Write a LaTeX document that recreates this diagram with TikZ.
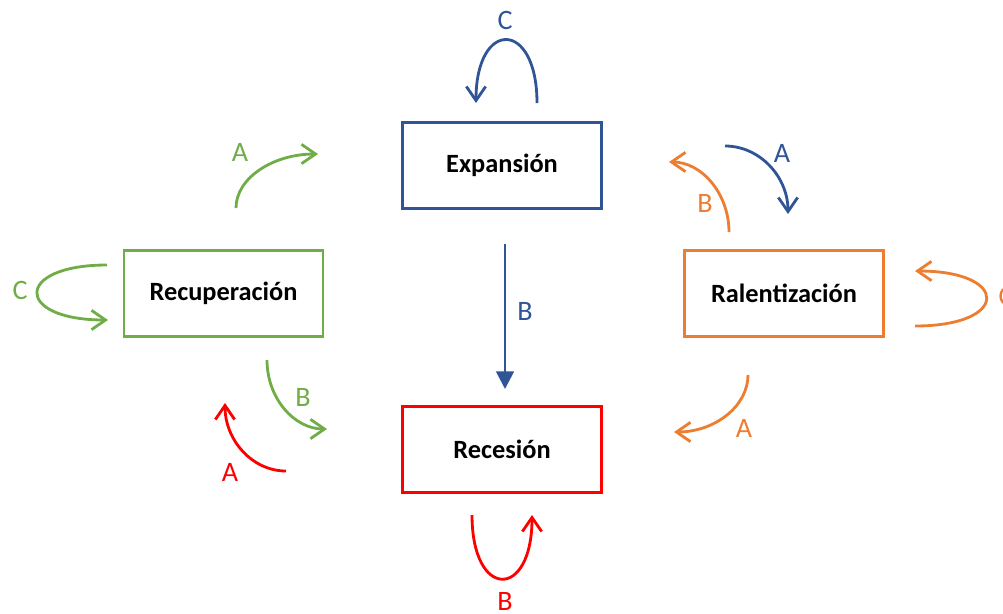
\documentclass[tikz,border=0pt]{standalone}
\usepackage{fontspec}
\setmainfont{Carlito}
\usetikzlibrary{arrows.meta}
\definecolor{azul}{RGB}{47,85,151}
\definecolor{verde}{RGB}{112,173,71}
\definecolor{naranja}{RGB}{237,125,49}
\definecolor{rojo}{RGB}{255,0,0}

\begin{document}
\begin{tikzpicture}[
  x=0.02cm, y=-0.02cm,
  >={Straight Barb[length=8pt,width=11pt]},
  fase/.style={draw,line width=1.4pt,minimum width=3.98cm,minimum height=1.72cm,
    font=\fontsize{15}{17}\selectfont\bfseries},
  flecha/.style={->,line width=1.6pt},
  etq/.style={font=\fontsize{16}{18}\selectfont}
]
\useasboundingbox (0,0) rectangle (1003,613);

% fases del ciclo
\node[fase,azul]    (exp) at (502,165.5) {\color{black}Expansión};
\node[fase,verde]   (rec) at (223.5,293.5) {\color{black}Recuperación};
\node[fase,naranja] (ral) at (784,293.5) {\color{black}Ralentización};
\node[fase,rojo]    (res) at (502,449.5) {\color{black}Recesión};

% extremos libres de las flechas
\coordinate (cE1) at (537,103);  \coordinate (cE2) at (476,103);
\coordinate (aE1) at (725,146);  \coordinate (aE2) at (788,214);
\coordinate (bR1) at (729,232);  \coordinate (bR2) at (669,162);
\coordinate (cR1) at (915,326);  \coordinate (cR2) at (915,271);
\coordinate (aR1) at (748,375);  \coordinate (aR2) at (674,432);
\coordinate (aV1) at (236,208);  \coordinate (aV2) at (318,154);
\coordinate (cV1) at (107,265);  \coordinate (cV2) at (108,320);
\coordinate (bV1) at (267,360);  \coordinate (bV2) at (327,429);
\coordinate (aS1) at (286,471);  \coordinate (aS2) at (225,403);
\coordinate (bS1) at (472,515);  \coordinate (bS2) at (532,515);
\coordinate (bE1) at (505,244);  \coordinate (bE2) at (505,389);

% expansion
\draw[flecha,azul] (cE1) .. controls (537,19) and (476,19) .. (cE2);
\draw[flecha,azul] (aE1) .. controls (760,146) and (788,177) .. (aE2);
\draw[azul,line width=1.6pt,-{Triangle[length=10pt,width=10pt]}] (bE1) -- (bE2);
\node[etq,azul] (lcE) at (505,20) {C};
\node[etq,azul] (laE) at (782,153) {A};
\node[etq,azul] (lbE) at (525,311) {B};

% ralentizacion
\draw[flecha,naranja] (bR1) .. controls (729,194) and (702,162) .. (bR2);
\draw[flecha,naranja] (cR1) .. controls (1010,326) and (1010,271) .. (cR2);
\draw[flecha,naranja] (aR1) .. controls (748,406) and (715,432) .. (aR2);
\node[etq,naranja] (lbR) at (705,203) {B};
\node[etq,naranja] (lcR) at (1006,296) {C};
\node[etq,naranja] (laR) at (744,428) {A};

% recuperacion
\draw[flecha,verde] (aV1) .. controls (236,178) and (273,154) .. (aV2);
\draw[flecha,verde] (cV1) .. controls (14,265) and (14,320) .. (cV2);
\draw[flecha,verde] (bV1) .. controls (267,398) and (294,429) .. (bV2);
\node[etq,verde] (laV) at (240,152) {A};
\node[etq,verde] (lcV) at (20,290) {C};
\node[etq,verde] (lbV) at (303,397) {B};

% recesion
\draw[flecha,rojo] (aS1) .. controls (252,471) and (225,440) .. (aS2);
\draw[flecha,rojo] (bS1) .. controls (472,600) and (532,600) .. (bS2);
\node[etq,rojo] (laS) at (230,472) {A};
\node[etq,rojo] (lbS) at (505,601) {B};
\end{tikzpicture}
\end{document}
